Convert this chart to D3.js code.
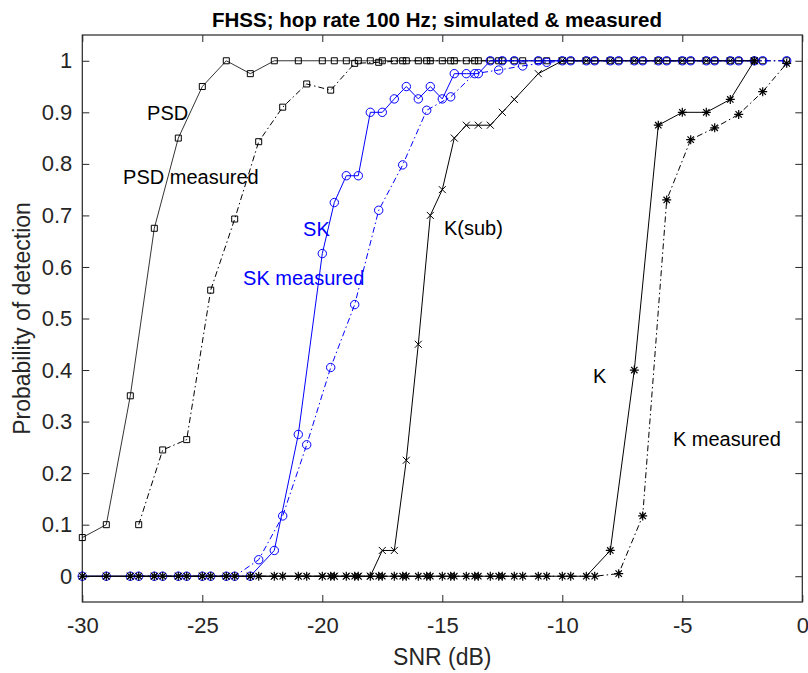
<!DOCTYPE html>
<html>
<head>
<meta charset="UTF-8">
<title>FHSS; hop rate 100 Hz</title>
<script src="https://d3js.org/d3.v7.min.js"></script>
<style>
  body { margin: 0; background: #fff; }
  text { font-family: Arial, "Liberation Sans", sans-serif; }
</style>
</head>
<body>
<script>
var w = 808, h = 673;

// simulated curves share one SNR grid (finer steps in the middle)
var snrSim = [-30,-29,-28,-27,-26,-25,-24,-23,-22,-21,-20,
  -19.5,-19,-18.5,-18,-17.5,-17,-16.5,-16,-15.5,-15,-14.5,-14,-13.5,-13,-12.5,-12,
  -11,-10,-9,-8,-7,-6,-5,-4,-3,-2];
var psdSim = [0.075,0.1,0.35,0.675,0.85,0.95,1,0.975,1,1,1,
  1,1,1,1,1,1,1,1,1,1,1,1,1,1,1,1,
  1,1,1,1,1,1,1,1,1,1];
var skSim = [0,0,0,0,0,0,0,0,0.05,0.275,0.626,
  0.725,0.777,0.777,0.9,0.9,0.926,0.95,0.926,0.95,0.926,0.975,0.975,0.975,1,1,1,
  1,1,1,1,1,1,1,1,1,1];
var ksubSim = [0,0,0,0,0,0,0,0,0,0,0,
  0,0,0,0,0.05,0.05,0.225,0.45,0.7,0.75,0.85,0.875,0.875,0.875,0.9,0.925,
  0.975,1,1,1,1,1,1,1,1,1];
var kSim = [0,0,0,0,0,0,0,0,0,0,0,
  0,0,0,0,0,0,0,0,0,0,0,0,0,0,0,0,
  0,0,0,0.05,0.4,0.875,0.9,0.9,0.925,1];

// measured curves
var snrMeas = [-27.65,-26.65,-25.65,-24.65,-23.65,-22.65,-21.65,-20.65,-19.65,-18.65,
  -17.65,-16.65,-15.65,-14.65,-13.65,-12.65,-11.65,-10.65,-9.65,-8.65,
  -7.65,-6.65,-5.65,-4.65,-3.65,-2.65,-1.65,-0.65];
var psdMeas = [0.1,0.245,0.265,0.555,0.693,0.843,0.91,0.955,0.943,0.995,
  0.997,1,1,1,1,1,1,1,1,1,
  1,1,1,1,1,1,1,1];
var skMeas = [0,0,0,0,0,0.032,0.117,0.255,0.405,0.527,
  0.71,0.798,0.904,0.93,0.975,0.982,0.99,0.997,1,1,
  1,1,1,1,1,1,1,1];
var kMeas = [0,0,0,0,0,0,0,0,0,0,
  0,0,0,0,0,0,0,0,0,0,
  0.005,0.117,0.73,0.847,0.87,0.896,0.94,0.995];

var xTicks = [-30,-25,-20,-15,-10,-5,0];
var yTicks = [0,0.1,0.2,0.3,0.4,0.5,0.6,0.7,0.8,0.9,1];

// curve labels, placed in data units
var labelText = ["PSD","PSD measured","SK","SK measured","K(sub)","K","K measured"];
var labelSnr  = [-27.3,-28.3,-20.8,-23.3,-14.93,-8.72,-5.39];
var labelProb = [0.885,0.761,0.66,0.565,0.662,0.375,0.253];
var labelColor = ["#000","#000","#0000ff","#0000ff","#000","#000","#000"];

var plotL = 82.3, plotR = 802.3, plotT = 35, plotB = 602;

var x = d3.scaleLinear().domain([-30,0]).range([plotL,plotR]);
var y = d3.scaleLinear().domain([-0.05,1.05]).range([plotB,plotT]);

var svg = d3.select("body").append("svg")
    .attr("width",w)
    .attr("height",h);

svg.append("rect").attr("width",w).attr("height",h).attr("fill","#fff");

// axes: inward ticks on all four sides
var axisColor = "#262626";
function styleAxis(g){
  g.select(".domain").remove();
  g.selectAll("line").attr("stroke",axisColor);
  g.selectAll("text").attr("fill",axisColor).style("font-size","22px")
    .style("font-family","Arial, 'Liberation Sans', sans-serif");
}
svg.append("g").attr("transform","translate(0,"+plotB+")")
  .call(d3.axisBottom(x).tickValues(xTicks).tickSizeInner(-7).tickSizeOuter(0)
    .tickPadding(15).tickFormat(function(d){return String(d);}))
  .call(styleAxis);
svg.append("g").attr("transform","translate(0,"+plotT+")")
  .call(d3.axisTop(x).tickValues(xTicks).tickSizeInner(-7).tickSizeOuter(0).tickFormat(""))
  .call(styleAxis);
svg.append("g").attr("transform","translate("+plotL+",0)")
  .call(d3.axisLeft(y).tickValues(yTicks).tickSizeInner(-7).tickSizeOuter(0)
    .tickPadding(10).tickFormat(function(d){return String(+d.toFixed(1));}))
  .call(styleAxis);
svg.append("g").attr("transform","translate("+plotR+",0)")
  .call(d3.axisRight(y).tickValues(yTicks).tickSizeInner(-7).tickSizeOuter(0).tickFormat(""))
  .call(styleAxis);

svg.append("rect")
  .attr("x",plotL).attr("y",plotT)
  .attr("width",plotR-plotL).attr("height",plotB-plotT)
  .attr("fill","none").attr("stroke",axisColor).attr("stroke-width",1.2);

// series
var dashDot = "6,3,1.5,3";
var series = [
  {xs:snrSim,  ys:psdSim,  color:"#000",    dash:null,    lw:0.8, marker:"square"},
  {xs:snrMeas, ys:psdMeas, color:"#000",    dash:dashDot, lw:1,   marker:"square"},
  {xs:snrSim,  ys:skSim,   color:"#0000ff", dash:null,    lw:1,   marker:"circle"},
  {xs:snrMeas, ys:skMeas,  color:"#0000ff", dash:dashDot, lw:1,   marker:"circle"},
  {xs:snrSim,  ys:ksubSim, color:"#000",    dash:null,    lw:1,   marker:"x"},
  {xs:snrSim,  ys:kSim,    color:"#000",    dash:null,    lw:1,   marker:"star"},
  {xs:snrMeas, ys:kMeas,   color:"#000",    dash:dashDot, lw:1,   marker:"star"}
];

var markerPath = {
  square: "M-3,-3h6v6h-6z",
  x: "M-3.5,-3.5L3.5,3.5M-3.5,3.5L3.5,-3.5",
  star: "M0,-4.5V4.5M-4.5,0H4.5M-3.2,-3.2L3.2,3.2M-3.2,3.2L3.2,-3.2"
};

var line = d3.line().x(function(d){return x(d[0]);}).y(function(d){return y(d[1]);});

series.forEach(function(s){
  var pts = d3.zip(s.xs, s.ys);
  svg.append("path")
    .datum(pts)
    .attr("d",line)
    .attr("fill","none")
    .attr("stroke",s.color)
    .attr("stroke-width",s.lw)
    .attr("stroke-dasharray",s.dash);

  var g = svg.append("g");
  if (s.marker == "circle") {
    g.selectAll("circle").data(pts).enter().append("circle")
      .attr("cx",function(d){return x(d[0]);})
      .attr("cy",function(d){return y(d[1]);})
      .attr("r",4.2)
      .attr("fill","none")
      .attr("stroke",s.color)
      .attr("stroke-width",1);
  } else {
    g.selectAll("path").data(pts).enter().append("path")
      .attr("transform",function(d){return "translate("+x(d[0])+","+y(d[1])+")";})
      .attr("d",markerPath[s.marker])
      .attr("fill","none")
      .attr("stroke",s.color)
      .attr("stroke-width",s.marker == "star" ? 1.2 : 1);
  }
});

// curve labels
svg.selectAll("text.lbl")
  .data(labelText)
  .enter()
  .append("text")
  .attr("class","lbl")
  .attr("x",function(d,i){return x(labelSnr[i]);})
  .attr("y",function(d,i){return y(labelProb[i]);})
  .attr("fill",function(d,i){return labelColor[i];})
  .style("font-size","20px")
  .text(function(d){return d;});

// titles
svg.append("text")
  .attr("x",437).attr("y",27)
  .attr("text-anchor","middle")
  .style("font-size","20.5px").style("font-weight","bold")
  .attr("fill","#000")
  .text("FHSS; hop rate 100 Hz; simulated & measured");

svg.append("text")
  .attr("x",(plotL+plotR)/2).attr("y",665)
  .attr("text-anchor","middle")
  .style("font-size","23px")
  .attr("fill",axisColor)
  .text("SNR (dB)");

svg.append("text")
  .attr("transform","translate(30,"+((plotT+plotB)/2)+") rotate(-90)")
  .attr("text-anchor","middle")
  .style("font-size","23px")
  .attr("fill",axisColor)
  .text("Probability of detection");
</script>
</body>
</html>
